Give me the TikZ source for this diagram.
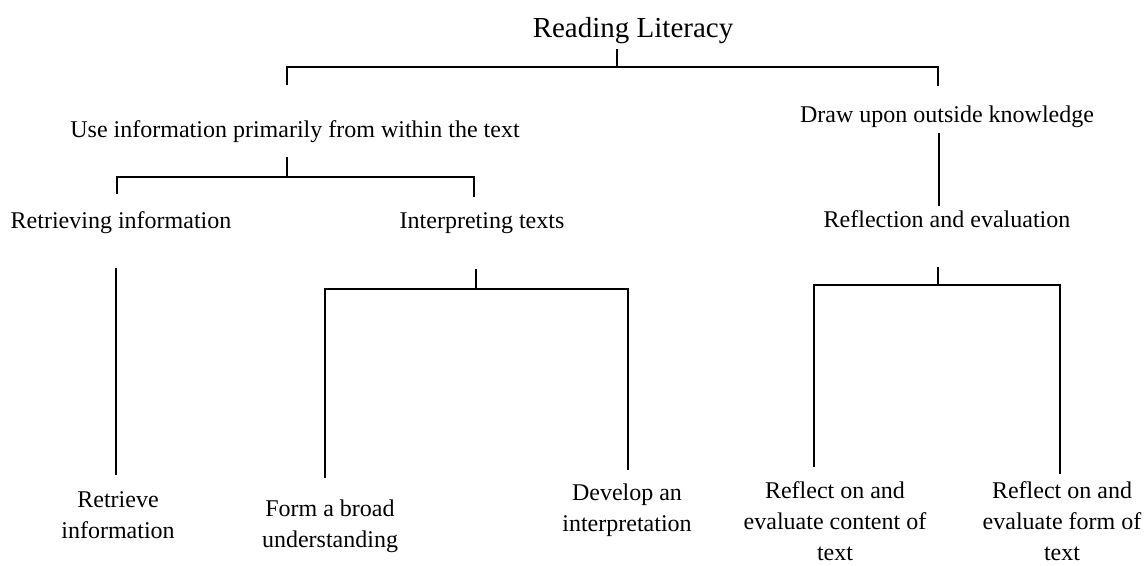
\documentclass[tikz,border=0pt]{standalone}
\usepackage{fontspec}
\setmainfont{Liberation Serif}
\begin{document}
\begin{tikzpicture}[x=1pt,y=-1pt,
  lbl/.style={font=\fontsize{24}{31}\selectfont,align=center,inner sep=0pt,anchor=base},
  ttl/.style={font=\fontsize{29}{32}\selectfont,inner sep=0pt,anchor=base},
  conn/.style={line width=1.5pt}]
\useasboundingbox (0,0) rectangle (1145,565);
% text nodes (multi-line nodes: base = baseline of last line)
\node[ttl] (root) at (633,37) {Reading Literacy};
\node[lbl] (use) at (295,137) {Use information primarily from within the text};
\node[lbl] (out) at (947,122) {Draw upon outside knowledge};
\node[lbl] (ret) at (121,228) {Retrieving information};
\node[lbl] (int) at (482,228) {Interpreting texts};
\node[lbl] (refl) at (947,227) {Reflection and evaluation};
\node[lbl] (b1) at (118,538) {Retrieve\\information};
\node[lbl] (b2) at (330,547) {Form a broad\\understanding};
\node[lbl] (b3) at (627,531) {Develop an\\interpretation};
\node[lbl] (b4) at (835,560) {Reflect on and\\evaluate content of\\text};
\node[lbl] (b5) at (1062,560) {Reflect on and\\evaluate form of\\text};
% junction coordinates
\coordinate (r0) at (617,49);  \coordinate (r1) at (617,67);
\coordinate (u0) at (287,157); \coordinate (u1) at (287,177);
\coordinate (o0) at (939,133);
\coordinate (i0) at (476,269); \coordinate (i1) at (476,289);
\coordinate (e0) at (938,267); \coordinate (e1) at (938,285);
\coordinate (ru) at (287,85);  \coordinate (ro) at (938,86);
\coordinate (ur) at (117,194); \coordinate (ui) at (474,197);
\coordinate (oe) at (939,206);
\coordinate (t0) at (116,268); \coordinate (t1) at (116,475);
\coordinate (ia) at (325,478); \coordinate (ib) at (628,470);
\coordinate (ea) at (814,467); \coordinate (eb) at (1060,474);
% connectors
\draw[conn] (r0) -- (r1);
\draw[conn] (ru) |- (r1) -| (ro);
\draw[conn] (u0) -- (u1);
\draw[conn] (ur) |- (u1) -| (ui);
\draw[conn] (o0) -- (oe);
\draw[conn] (t0) -- (t1);
\draw[conn] (i0) -- (i1);
\draw[conn] (ia) |- (i1) -| (ib);
\draw[conn] (e0) -- (e1);
\draw[conn] (ea) |- (e1) -| (eb);
\end{tikzpicture}
\end{document}
